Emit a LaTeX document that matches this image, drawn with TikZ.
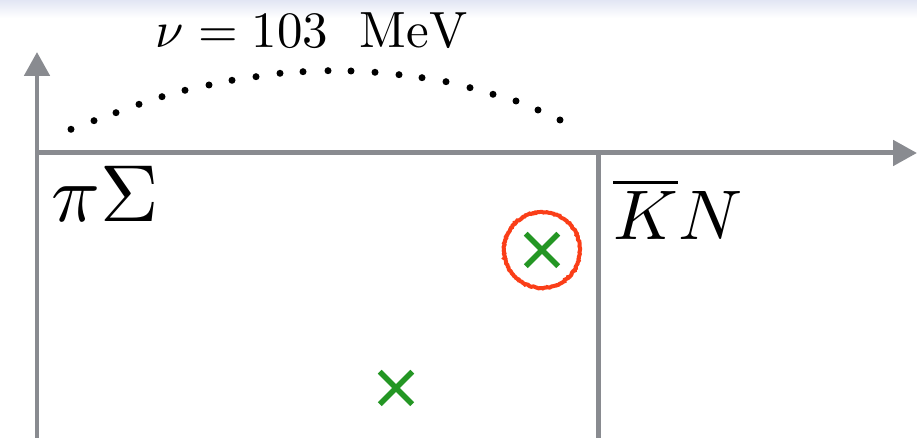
\documentclass[tikz,border=0pt]{standalone}
\usepackage{amsmath,amssymb}
\usetikzlibrary{arrows.meta,shapes.misc,decorations.pathmorphing}

\definecolor{axisgray}{RGB}{137,139,144}
\definecolor{polegreen}{RGB}{36,150,36}
\definecolor{ringred}{RGB}{250,62,24}
\definecolor{topband}{RGB}{226,230,244}

\tikzset{
  axis/.style={axisgray, line width=0.1cm, -{Triangle[length=0.48cm,width=0.5cm]}},
  pole/.style={cross out, draw=polegreen, line width=0.11cm, minimum size=0.54cm, inner sep=0pt},
  ring/.style={circle, draw=ringred, line width=0.08cm, minimum size=1.52cm, inner sep=0pt,
    decorate, decoration={random steps, segment length=0.8pt, amplitude=0.35pt}},
  lbl/.style={inner sep=0pt, anchor=base west, transform shape}
}

\begin{document}
\begin{tikzpicture}[x=0.02cm, y=0.02cm]
  % --- frame (px grid, y measured from the bottom) ---
  \useasboundingbox (0,0) rectangle (917,438);
  \fill[white] (0,0) rectangle (917,438);
  \shade[top color=topband, bottom color=white] (0,420) rectangle (917,438);

  % --- axes and threshold line ---
  \coordinate (o) at (37,0);
  \coordinate (ytop) at (37,386);
  \coordinate (xl) at (37,285);
  \coordinate (xr) at (917,285);
  \coordinate (th) at (598,285);
  \coordinate (thb) at (598,0);
  \draw[axis] (o) -- (ytop);
  \draw[axis] (xl) -- (xr);
  \draw[axisgray, line width=0.1cm] (th) -- (thb);

  % --- channel labels ---
  \node[lbl, scale=4.6] (piS) at (50,216) {$\pi\Sigma$};
  \node[lbl, scale=4.0] (KN) at (612,198) {$\overline{K}N$};
  \node[lbl, anchor=base, scale=2.9] (nu) at (312,390)
    {$\nu = 103\hspace{0.62em}\mathrm{MeV}$};

  % --- dotted arc ---
  \foreach \pos in {(71,308.7), (94,317.3), (116,325.3), (139,333.7), (162,341.3),
                    (185,347.7), (209,353), (232,357.7), (256,361.3), (280,364.7),
                    (303,366.3), (328,367.3), (351,367), (375,365.7), (399,363.3),
                    (422,360.3), (446,356.3), (470,350.3), (493,343.7), (516,337),
                    (538,328), (560,318)}
    \fill[black] \pos circle (0.07cm);

  % --- poles ---
  \node[pole] (pole1) at (542,188) {};
  \node[pole] (pole2) at (396,50) {};
  \node[ring] (ring) at (pole1) {};
\end{tikzpicture}
\end{document}
